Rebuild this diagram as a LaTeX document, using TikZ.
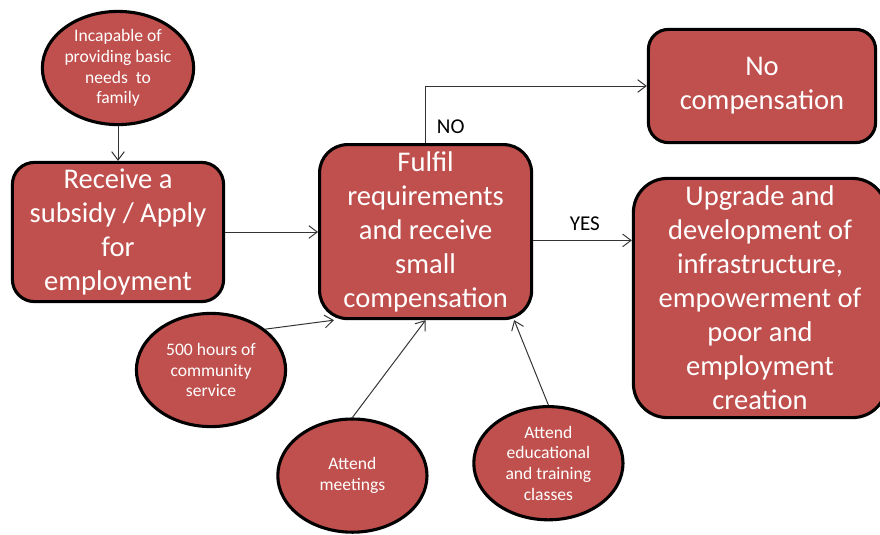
\documentclass[tikz,border=0pt]{standalone}
\usepackage{fontspec}
\setmainfont{Carlito}
\usepackage{tikz}
\usetikzlibrary{shapes,arrows.meta,calc}
\definecolor{boxred}{HTML}{C0504D}

\begin{document}
\begin{tikzpicture}
      \tikzset{red box/.style={rectangle,
          rounded corners=#1,
          draw=black,
          line width=2.2pt,
          fill=boxred,
          text=white,
          align=center,
          inner sep=0pt,
          font=\fontsize{20.3}{24.2}\selectfont},
        red oval/.style={ellipse,
          draw=black,
          line width=2.2pt,
          fill=boxred,
          text=white,
          align=center,
          inner sep=0pt,
          minimum width=3.73cm,
          minimum height=2.83cm,
          font=\fontsize{12.5}{14.7}\selectfont},
        flow arrow/.style={-{Straight Barb[length=6pt,width=9pt]},
          draw=black!80,
          line width=0.7pt},
        answer/.style={anchor=base west,
          text=black,
          font=\fontsize{15}{18}\selectfont}
      }
      \useasboundingbox (0,0) rectangle (22,-13.35);

      \node [red oval] (incapable) at (2.95,-1.7) {Incapable of\\providing basic\\needs~ to\\family};
      \node [red box=0.55cm, minimum width=5.28cm, minimum height=3.48cm] (receive) at (2.95,-5.8)
        {Receive a\\subsidy / Apply\\for\\employment};
      \node [red box=0.7cm, minimum width=5.3cm, minimum height=4.35cm] (fulfil) at (10.64,-5.79)
        {Fulfil\\requirements\\and receive\\small\\compensation};
      \node [red box=0.5cm, minimum width=5.68cm, minimum height=2.83cm] (nocomp) at (19.05,-2.15)
        {No\\compensation};
      \node [red box=0.85cm, minimum width=6.33cm, minimum height=5.98cm] (upgrade) at (19.0,-7.45)
        {Upgrade and\\development of\\infrastructure,\\empowerment of\\poor and\\employment\\creation};
      \node [red oval] (hours) at (5.275,-9.25) {500 hours of\\community\\service};
      \node [red oval] (meetings) at (8.81,-11.89) {Attend\\meetings};
      \node [red oval] (classes) at (13.71,-11.58) {Attend\\educational\\and training\\classes};

      \node [answer] (no) at (10.8,-3.325) {NO};
      \node [answer] (yes) at (14.12,-5.75) {YES};

      \draw [flow arrow] (incapable.south) -- (receive.north);
      \draw [flow arrow] (receive.east) -- (receive.east -| fulfil.west);
      \draw [flow arrow] (fulfil.north) |- (nocomp.west);
      \draw [flow arrow] ([yshift=-0.22cm]fulfil.east) -- ([yshift=-0.22cm]fulfil.east -| upgrade.west);
      \draw [flow arrow] (hours.37) -- (fulfil.224);
      \draw [flow arrow] (meetings.north) -- (fulfil.south);
      \draw [flow arrow] (classes.north) -- (fulfil.315);

    \end{tikzpicture}
\end{document}
